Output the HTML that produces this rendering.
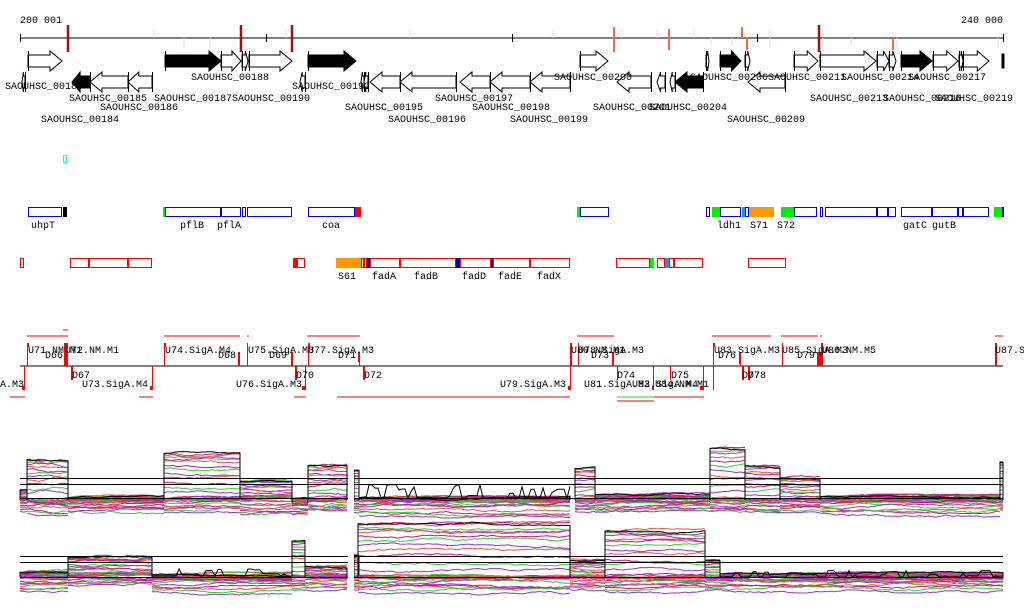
<!DOCTYPE html>
<html><head><meta charset="utf-8"><style>
html,body{margin:0;padding:0;background:#fff;width:1024px;height:611px;overflow:hidden}
svg{display:block}
text{font-family:"Liberation Mono","DejaVu Sans Mono",monospace;font-size:10px;fill:#000}
</style></head><body>
<svg id="s" width="1024" height="611" viewBox="0 0 1024 611" xmlns="http://www.w3.org/2000/svg">
<g id="ruler">
<text x="20" y="23">200 001</text><text x="1003" y="23" text-anchor="end">240 000</text>
<line x1="20" y1="38" x2="1003" y2="38" stroke="#000"/>
<g stroke="#000"><line x1="20.5" y1="34" x2="20.5" y2="42"/><line x1="266.5" y1="34" x2="266.5" y2="42"/><line x1="512.5" y1="34" x2="512.5" y2="42"/><line x1="757.5" y1="34" x2="757.5" y2="42"/><line x1="1003.5" y1="34" x2="1003.5" y2="42"/></g>
<g stroke="#a01010" stroke-width="2.5"><line x1="68" y1="25" x2="68" y2="52"/><line x1="241" y1="25" x2="241" y2="52"/><line x1="292" y1="25" x2="292" y2="52"/><line x1="819" y1="25" x2="819" y2="52"/></g>
<g stroke="#fcd5c5" stroke-width="1"><line x1="154" y1="29" x2="154" y2="38"/><line x1="184" y1="38" x2="184" y2="48"/><line x1="210" y1="38" x2="210" y2="48"/><line x1="286" y1="29" x2="286" y2="38"/><line x1="410" y1="29" x2="410" y2="38"/><line x1="553" y1="29" x2="553" y2="38"/><line x1="622" y1="29" x2="622" y2="38"/><line x1="657" y1="29" x2="657" y2="38"/><line x1="694" y1="29" x2="694" y2="38"/><line x1="711" y1="38" x2="711" y2="46"/><line x1="732" y1="38" x2="732" y2="46"/><line x1="770" y1="29" x2="770" y2="38"/><line x1="770" y1="38" x2="770" y2="48"/><line x1="823" y1="38" x2="823" y2="46"/><line x1="851" y1="38" x2="851" y2="46"/><line x1="897" y1="38" x2="897" y2="48"/><line x1="998" y1="38" x2="998" y2="48"/></g>
<g stroke="#f26a4a" stroke-width="2"><line x1="614" y1="27" x2="614" y2="52"/><line x1="669" y1="29" x2="669" y2="50"/><line x1="742" y1="27" x2="742" y2="38"/><line x1="747" y1="38" x2="747" y2="50"/><line x1="893" y1="38" x2="893" y2="50"/></g>
</g>
<g id="genes" stroke="#000" stroke-width="1"></g>
<g font-size="10">
<text x="5" y="89">SAOUHSC_00183</text><text x="69" y="101">SAOUHSC_00185</text><text x="100" y="110">SAOUHSC_00186</text><text x="41" y="122">SAOUHSC_00184</text>
<text x="191" y="80">SAOUHSC_00188</text><text x="154" y="101">SAOUHSC_00187</text><text x="232" y="101">SAOUHSC_00190</text><text x="292" y="89">SAOUHSC_00192</text>
<text x="345" y="110">SAOUHSC_00195</text><text x="388" y="122">SAOUHSC_00196</text><text x="435" y="101">SAOUHSC_00197</text><text x="472" y="110">SAOUHSC_00198</text><text x="510" y="122">SAOUHSC_00199</text>
<text x="554" y="80">SAOUHSC_00200</text><text x="593" y="110">SAOUHSC_00201</text><text x="649" y="110">SAOUHSC_00204</text><text x="690" y="80">SAOUHSC_00206</text><text x="727" y="122">SAOUHSC_00209</text>
<text x="768" y="80">SAOUHSC_00211</text><text x="841" y="80">SAOUHSC_00214</text><text x="810" y="101">SAOUHSC_00213</text><text x="883" y="101">SAOUHSC_00216</text><text x="908" y="80">SAOUHSC_00217</text><text x="935" y="101">SAOUHSC_00219</text>
</g>
<rect x="63.5" y="155.5" width="3" height="7" fill="none" stroke="#0ff"/>
<g id="ann" stroke-width="1"></g>
<g>
<text x="31" y="228">uhpT</text><text x="180" y="228">pflB</text><text x="217" y="228">pflA</text><text x="322" y="228">coa</text><text x="717" y="228">ldh1</text><text x="750" y="228">S71</text><text x="777" y="228">S72</text><text x="903" y="228">gatC</text><text x="932" y="228">gutB</text>
<text x="338" y="279">S61</text><text x="372" y="279">fadA</text><text x="414" y="279">fadB</text><text x="462" y="279">fadD</text><text x="498" y="279">fadE</text><text x="537" y="279">fadX</text>
</g>
<g id="op">
<line x1="20" y1="366" x2="1003" y2="366" stroke="#000"/>
<g stroke="#f00" stroke-width="1">
<line x1="27" y1="336" x2="68" y2="336"/><line x1="63" y1="330" x2="68" y2="330"/><line x1="164" y1="336" x2="240" y2="336"/><line x1="247" y1="336" x2="249" y2="336"/><line x1="307" y1="336" x2="360" y2="336"/>
<line x1="577" y1="336" x2="614" y2="336"/><line x1="712" y1="336" x2="771" y2="336"/><line x1="781" y1="336" x2="818" y2="336"/><line x1="820" y1="336" x2="822" y2="336"/><line x1="995" y1="336" x2="1003" y2="336"/>
<line x1="10" y1="397" x2="25" y2="397"/><line x1="139" y1="397" x2="153" y2="397"/><line x1="294" y1="397" x2="306" y2="397"/><line x1="337" y1="397" x2="570" y2="397"/><line x1="654" y1="397" x2="704" y2="397"/><line x1="617" y1="401" x2="654" y2="401"/>
</g>
<line x1="617" y1="397" x2="654" y2="397" stroke="#0e0"/>
<g stroke="#f00" stroke-width="1">
<line x1="27.5" y1="343" x2="27.5" y2="366"/><line x1="64.5" y1="343" x2="64.5" y2="366"/><line x1="67.5" y1="343" x2="67.5" y2="366"/><line x1="164.5" y1="343" x2="164.5" y2="366"/><line x1="247.5" y1="343" x2="247.5" y2="366"/><line x1="308.5" y1="343" x2="308.5" y2="366"/><line x1="239.5" y1="352" x2="239.5" y2="366"/><line x1="292.5" y1="352" x2="292.5" y2="366"/><line x1="359.5" y1="352" x2="359.5" y2="366"/>
<line x1="24.5" y1="366" x2="24.5" y2="390"/><line x1="71.5" y1="366" x2="71.5" y2="380"/><line x1="152.5" y1="366" x2="152.5" y2="390"/><line x1="305.5" y1="366" x2="305.5" y2="390"/><line x1="296.5" y1="366" x2="296.5" y2="380"/><line x1="364.5" y1="366" x2="364.5" y2="380"/>
<line x1="571.5" y1="343" x2="571.5" y2="366"/><line x1="578.5" y1="343" x2="578.5" y2="366"/><line x1="713.5" y1="343" x2="713.5" y2="366"/><line x1="782.5" y1="343" x2="782.5" y2="366"/><line x1="821.5" y1="343" x2="821.5" y2="366"/><line x1="995.5" y1="343" x2="995.5" y2="366"/><line x1="613.5" y1="352" x2="613.5" y2="366"/><line x1="740.5" y1="352" x2="740.5" y2="366"/><line x1="818.5" y1="352" x2="818.5" y2="366"/>
<line x1="570.5" y1="366" x2="570.5" y2="390"/><line x1="617.5" y1="366" x2="617.5" y2="380"/><line x1="653.5" y1="366" x2="653.5" y2="390"/><line x1="670.5" y1="366" x2="670.5" y2="380"/><line x1="703.5" y1="366" x2="703.5" y2="390"/><line x1="713.5" y1="366" x2="713.5" y2="390"/><line x1="742.5" y1="366" x2="742.5" y2="380"/><line x1="748.5" y1="366" x2="748.5" y2="380"/>
</g>
<g fill="#f00">
<rect x="27" y="343" width="2" height="4"/><rect x="64" y="343" width="4" height="23"/><rect x="164" y="343" width="2" height="4"/><rect x="238" y="352" width="2" height="14"/><rect x="291" y="352" width="2" height="14"/><rect x="308" y="343" width="2" height="4"/><rect x="358" y="352" width="2" height="10"/>
<rect x="22" y="386" width="3" height="4"/><rect x="150" y="386" width="3" height="4"/><rect x="302" y="386" width="3" height="4"/><rect x="71" y="366" width="2" height="14"/><rect x="295" y="366" width="2" height="14"/><rect x="363" y="366" width="2" height="14"/>
<rect x="570" y="343" width="2" height="23"/><rect x="612" y="352" width="2" height="14"/><rect x="739" y="352" width="2" height="12"/><rect x="817" y="352" width="4" height="14"/><rect x="821" y="343" width="2" height="23"/><rect x="995" y="343" width="2" height="23"/><rect x="713" y="343" width="2" height="4"/>
<rect x="568" y="386" width="3" height="4"/><rect x="700" y="386" width="3" height="4"/><rect x="742" y="366" width="2" height="14"/><rect x="748" y="366" width="2" height="14"/><rect x="652" y="386" width="2" height="4"/>
</g>
<text x="28" y="353">U71.NM.M1</text><text x="65" y="353">U72.NM.M1</text><text x="45" y="358">D66</text><text x="165" y="353">U74.SigA.M4</text><text x="218" y="358">D68</text><text x="248" y="353">U75.SigA.M3</text><text x="269" y="358">D69</text><text x="308" y="353">U77.SigA.M3</text><text x="338" y="358">D71</text>
<text x="571" y="353">U80.NM.M1</text><text x="578" y="353">U78.SigA.M3</text><text x="591" y="358">D73</text><text x="714" y="353">U83.SigA.M3</text><text x="718" y="358">D76</text><text x="782" y="353">U85.SigA.M3</text><text x="797" y="358">D79</text><text x="822" y="353">U86.NM.M5</text><text x="995" y="353">U87.SigA.M3</text>
<text x="-42" y="387">U70.SigA.M3</text><text x="72" y="378">D67</text><text x="82" y="387">U73.SigA.M4</text><text x="296" y="378">D70</text><text x="236" y="387">U76.SigA.M3</text><text x="364" y="378">D72</text><text x="500" y="387">U79.SigA.M3</text>
<text x="584" y="387">U81.SigA.M3</text><text x="632" y="387">U82.SigA.M4</text><text x="655" y="387">U84.NM.M1</text><text x="617" y="378">D74</text><text x="671" y="378">D75</text><text x="742" y="378">D77</text><text x="748" y="378">D78</text>
</g>
<g id="plots"></g>
</svg>
<script>
var NS="http://www.w3.org/2000/svg";
function el(p,t,a){var e=document.createElementNS(NS,t);for(var k in a)e.setAttribute(k,a[k]);p.appendChild(e);return e;}
var G=document.getElementById('genes');
function fwd(x0,x1,y,fill){var h=x1-x0,hl=Math.min(12,h*0.45);var pts=[[x0,y+4],[x1-hl,y+4],[x1-hl,y],[x1,y+10],[x1-hl,y+20],[x1-hl,y+16],[x0,y+16]];el(G,'polygon',{points:pts.join(' '),fill:fill});el(G,'line',{x1:x0+.5,y1:y,x2:x0+.5,y2:y+20});}
function rev(x0,x1,y,fill){var h=x1-x0,hl=Math.min(12,h*0.45);var pts=[[x1,y+4],[x0+hl,y+4],[x0+hl,y],[x0,y+10],[x0+hl,y+20],[x0+hl,y+16],[x1,y+16]];el(G,'polygon',{points:pts.join(' '),fill:fill});el(G,'line',{x1:x1+.5,y1:y,x2:x1+.5,y2:y+20});}
var F=[[28,62,'#fff'],[165,221,'#000'],[221,241,'#fff'],[242,248,'#fff'],[249,292,'#fff'],[308,356,'#000'],[580,608,'#fff'],[706,709,'#fff'],[720,741,'#000'],[745,750,'#fff'],[794,818,'#fff'],[820,876,'#fff'],[877,889,'#fff'],[889,896,'#fff'],[901,932,'#000'],[933,958,'#fff'],[959,963,'#fff'],[963,989,'#fff']];
F.forEach(function(g){fwd(g[0],g[1],51,g[2]);});
el(G,'rect',{x:1002,y:54,width:2,height:14,fill:'#000'});
var R=[[22,25,'#fff'],[72,90,'#000'],[90,128,'#fff'],[128,152,'#fff'],[300,305,'#fff'],[361,364,'#fff'],[364,368,'#fff'],[370,400,'#fff'],[400,456,'#fff'],[460,490,'#fff'],[490,530,'#fff'],[530,570,'#fff'],[617,651,'#fff'],[657,665,'#fff'],[670,675,'#fff'],[675,703,'#000'],[748,785,'#fff']];
R.forEach(function(g){rev(g[0],g[1],72,g[2]);});
var A=document.getElementById('ann');
function box(x0,x1,y,c,f){el(A,'rect',{x:x0+.5,y:y+.5,width:Math.max(x1-x0-1,1),height:9,fill:f||'#fff',stroke:f||c});}
[[28,62,'#00f'],[63,67,0,'#000'],[163,165,0,'#0e0'],[165,221,'#00f'],[221,241,'#00f'],[242,246,'#00f'],[247,292,'#00f'],[308,355,'#00f'],[355,361,0,'#f00'],
[577,580,0,'#0e0'],[580,609,'#00f'],[706,710,'#00f'],[712,720,0,'#0e0'],[720,741,'#00f'],[742,745,0,'#1e90ff'],[745,749,'#00f'],[749,774,0,'#f90'],[781,794,0,'#0e0'],[794,817,'#00f'],[820,823,'#00f'],[825,877,'#00f'],[877,888,'#00f'],[888,896,'#00f'],[901,932,'#00f'],[932,958,'#00f'],[958,963,'#00f'],[963,989,'#00f'],[994,1003,0,'#0e0'],[1002,1004,0,'#00f']
].forEach(function(b){box(b[0],b[1],207,b[2],b[3]);});
[[20,24,'#f00'],[70,89,'#f00'],[89,128,'#f00'],[128,152,'#f00'],[293,297,0,'#f00'],[297,305,'#f00'],[336,361,0,'#f90'],[361,364,'#f00'],[364,367,'#f00'],[367,370,0,'#009'],[370,400,'#f00'],[400,456,'#f00'],[456,460,0,'#009'],[460,491,'#f00'],[491,493,0,'#009'],[493,530,'#f00'],[530,570,'#f00'],[616,650,'#f00'],[650,654,0,'#0e0'],[657,665,'#f00'],[665,669,0,'#1e90ff'],[669,674,'#f00'],[674,703,'#f00'],[748,786,'#f00']
].forEach(function(b){box(b[0],b[1],258,b[2],b[3]);});
var P=document.getElementById('plots');
var seed=7;function rnd(){seed=(seed*16807)%2147483647;return seed/2147483647;}
var cols=['#e8553a','#d2691e','#8b8b00','#a0148c','#cd5c5c','#6b8e23','#ff7f50','#c71585','#9acd32','#87ceeb','#bc8f8f','#dda0dd','#b8860b','#ff4500','#32cd32','#4169e1','#8b4513','#db7093','#20b2aa','#a0522d','#ff6347','#9932cc','#7cfc00','#cd853f','#1e90ff','#800000','#d2b48c','#556b2f'];
function walk(x0,x1,lvl,noise){var pts=[];var d=0;for(var x=x0;x<=x1;x+=3){d+=(rnd()-0.5)*noise;if(d>noise*2)d=noise*2;if(d<-noise*2)d=-noise*2;pts.push(x+','+(lvl+d).toFixed(1));}pts.push(x1+','+(lvl+d).toFixed(1));return pts;}
function seg(x0,x1,top,base,low,noise){
 var n=cols.length;
 for(var i=0;i<n;i++){
  var t=i/(n-1);var lvl;
  if(t<0.45){lvl=top+(base-top)*Math.pow(t/0.45,1.6);}
  else if(t<0.7){lvl=base+(rnd()-0.5)*3;}
  else{lvl=base+(low-base)*((t-0.7)/0.3);}
  el(P,'polyline',{points:walk(x0,x1,lvl,noise).join(' '),fill:'none',stroke:cols[(i*7)%n],'stroke-width':1});
 }
 var pts=walk(x0,x1,top,noise*0.8);
 el(P,'polyline',{points:x0+','+base+' '+pts.join(' ')+' '+x1+','+base,fill:'none',stroke:'#000','stroke-width':1});
}
function spiky(x0,x1,base,amp){var pts=[];var y=base;for(var x=x0;x<=x1;x+=3){if(rnd()<0.3)y=base-rnd()*amp;else if(rnd()<0.3)y=base;pts.push(x+','+y.toFixed(1));}el(P,'polyline',{points:pts.join(' '),fill:'none',stroke:'#000'});}
[[20,27,490,500,512,1.5],[27,68,460,500,513,2],[68,164,498,500,512,1.5],[164,240,454,499,512,1.5],[240,292,481,499,514,1.5],[292,308,498,503,515,1.5],[308,347,465,500,510,2],[354,359,470,500,512,1],[359,570,498,500,515,1.5],[575,595,468,500,512,1.5],[595,710,495,500,512,1.5],[710,745,448,500,512,1.5],[745,780,466,500,512,1.5],[780,820,478,500,512,1.5],[820,1000,497,500,514,1.5],[1000,1003,462,500,510,1]].forEach(function(s){seg.apply(null,s);});
spiky(360,570,498,14);
[[20,68,572,577,592,1.5],[68,152,558,576,585,1.5],[152,292,575,578,592,1.5],[292,305,541,576,590,1],[305,347,566,577,590,1.5],[354,359,555,577,590,1],[358,570,524,577,592,1.5],[570,605,560,577,590,1.5],[605,705,531,577,592,1.5],[705,720,560,578,590,1],[720,1003,574,578,590,1.5]].forEach(function(s){seg.apply(null,s);});
spiky(152,292,576,8);spiky(720,1003,577,7);
[478,484,498,556,562,577].forEach(function(y){el(P,'line',{x1:20,y1:y+.5,x2:1003,y2:y+.5,stroke:'#000'});});
el(P,'rect',{x:348,y:440,width:6,height:170,fill:'#fff'});
</script>
</body></html>
